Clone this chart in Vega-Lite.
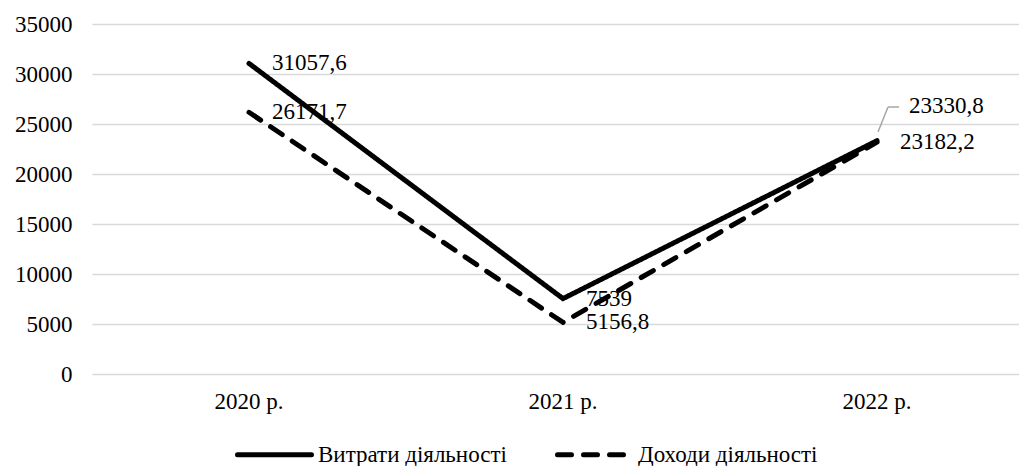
{
  "$schema": "https://vega.github.io/schema/vega-lite/v6.json",
  "autosize": "none",
  "width": 942,
  "height": 350,
  "padding": {"left": 92, "top": 24, "right": 0, "bottom": 92},
  "background": "white",
  "config": {
    "view": {"stroke": null},
    "font": "Liberation Serif",
    "axis": {"labelFont": "Liberation Serif", "labelFontSize": 23, "labelColor": "#000000", "domain": false, "ticks": false, "tickSize": 0, "title": null},
    "legend": {"labelFont": "Liberation Serif", "labelFontSize": 23, "labelColor": "#000000", "labelLimit": 0}
  },
  "data": {
    "values": [
      {"year": "2020 р.", "series": "Витрати діяльності", "value": 31057.6, "label": "31057,6"},
      {"year": "2021 р.", "series": "Витрати діяльності", "value": 7539, "label": "7539"},
      {"year": "2022 р.", "series": "Витрати діяльності", "value": 23330.8, "label": "23330,8"},
      {"year": "2020 р.", "series": "Доходи діяльності", "value": 26171.7, "label": "26171,7"},
      {"year": "2021 р.", "series": "Доходи діяльності", "value": 5156.8, "label": "5156,8"},
      {"year": "2022 р.", "series": "Доходи діяльності", "value": 23182.2, "label": "23182,2"}
    ]
  },
  "encoding": {
    "x": {"field": "year", "type": "nominal", "sort": null,
          "axis": {"labelAngle": 0, "labelPadding": 16, "grid": false}},
    "y": {"field": "value", "type": "quantitative",
          "scale": {"domain": [0, 35000], "nice": false},
          "axis": {"values": [0, 5000, 10000, 15000, 20000, 25000, 30000, 35000], "format": "d", "labelPadding": 20, "grid": true, "gridColor": "#d9d9d9", "gridWidth": 1.5}}
  },
  "layer": [
    {
      "mark": {"type": "line", "strokeWidth": 5, "strokeCap": "round", "strokeJoin": "miter"},
      "encoding": {
        "color": {"field": "series", "type": "nominal", "scale": {"range": ["#000000", "#000000"]}, "legend": null},
        "strokeDash": {"field": "series", "type": "nominal",
          "scale": {"domain": ["Витрати діяльності", "Доходи діяльності"], "range": [[1, 0], [14, 12]]},
          "legend": {"title": null, "orient": "none", "direction": "horizontal", "legendX": 143, "legendY": 391,
                     "symbolType": "stroke", "symbolSize": 5476, "symbolStrokeWidth": 5, "symbolStrokeColor": "#000000",
                     "labelFont": "Liberation Serif", "labelFontSize": 23,
                     "labelOffset": 4, "labelLimit": 0, "columnPadding": 40, "padding": 0,
                     "encode": {"symbols": {"update": {"strokeCap": {"value": "round"}}}}}}
      }
    },
    {
      "transform": [{"filter": "!(datum.year === '2022 р.' && datum.series === 'Витрати діяльності')"}],
      "mark": {"type": "text", "align": "left", "baseline": "middle", "dx": 23, "fontSize": 23, "font": "Liberation Serif", "color": "#000000"},
      "encoding": {"text": {"field": "label"}}
    },
    {
      "transform": [{"filter": "datum.year === '2022 р.' && datum.series === 'Витрати діяльності'"}],
      "mark": {"type": "text", "align": "left", "baseline": "middle", "dx": 32, "dy": -35, "fontSize": 23, "font": "Liberation Serif", "color": "#000000"},
      "encoding": {"text": {"field": "label"}}
    },
    {
      "transform": [{"filter": "datum.year === '2022 р.' && datum.series === 'Витрати діяльності'"}],
      "mark": {"type": "rule", "color": "#a6a6a6", "strokeWidth": 1.5, "xOffset": 1, "x2Offset": 11},
      "encoding": {
        "x2": {"field": "year"},
        "y": {"datum": 24200, "type": "quantitative"},
        "y2": {"datum": 26700}
      }
    },
    {
      "transform": [{"filter": "datum.year === '2022 р.' && datum.series === 'Витрати діяльності'"}],
      "mark": {"type": "rule", "color": "#a6a6a6", "strokeWidth": 1.5, "xOffset": 11, "x2Offset": 22},
      "encoding": {
        "x2": {"field": "year"},
        "y": {"datum": 26700, "type": "quantitative"},
        "y2": {"datum": 26700}
      }
    }
  ]
}
